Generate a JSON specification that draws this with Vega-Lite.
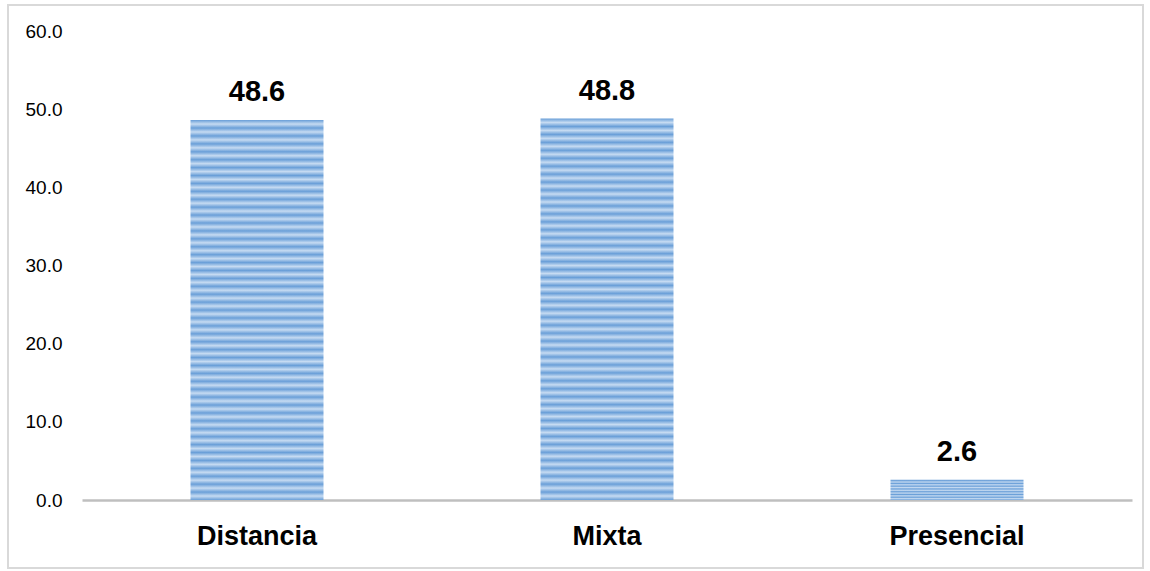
{
  "$schema": "https://vega.github.io/schema/vega-lite/v6.json",
  "width": 1135,
  "height": 563,
  "autosize": {"type": "none"},
  "padding": {"left": 8, "top": 5, "right": 7, "bottom": 3},
  "background": "white",
  "config": {"view": {"stroke": "#d9d9d9", "strokeWidth": 2}},
  "data": {"values": [
    {"modalidad": "Distancia", "valor": 48.6},
    {"modalidad": "Mixta", "valor": 48.8},
    {"modalidad": "Presencial", "valor": 2.6}
  ]},
  "encoding": {
    "x": {
      "field": "modalidad", "type": "nominal", "sort": null,
      "scale": {"range": [74, 1124], "paddingInner": 0.62, "paddingOuter": 0.31},
      "axis": {"title": null, "orient": "bottom", "offset": -68, "labelAngle": 0, "ticks": false,
               "domainColor": "#bfbfbf", "domainWidth": 2.5, "labelFont": "Liberation Sans",
               "labelFontSize": 27, "labelFontWeight": "bold", "labelColor": "#000000", "labelPadding": 23}
    },
    "y": {
      "field": "valor", "type": "quantitative",
      "scale": {"domain": [0, 60], "range": [495, 26], "nice": false},
      "axis": {"title": null, "offset": -54, "domain": false, "ticks": false, "grid": false,
               "values": [0, 10, 20, 30, 40, 50, 60], "format": ".1f", "labelPadding": 0,
               "labelFont": "Liberation Sans", "labelFontSize": 19, "labelColor": "#000000"}
    }
  },
  "layer": [
    {"mark": {"type": "bar", "color": {"gradient": "linear", "x1": 0, "y1": 0, "x2": 0, "y2": 1, "stops": [
      {"offset": 0, "color": "#6a9fd8"}, {"offset": 0.0104, "color": "#c6dbf2"},
      {"offset": 0.0208, "color": "#6a9fd8"}, {"offset": 0.0313, "color": "#c6dbf2"},
      {"offset": 0.0417, "color": "#6a9fd8"}, {"offset": 0.0521, "color": "#c6dbf2"},
      {"offset": 0.0625, "color": "#6a9fd8"}, {"offset": 0.0729, "color": "#c6dbf2"},
      {"offset": 0.0833, "color": "#6a9fd8"}, {"offset": 0.0938, "color": "#c6dbf2"},
      {"offset": 0.1042, "color": "#6a9fd8"}, {"offset": 0.1146, "color": "#c6dbf2"},
      {"offset": 0.125, "color": "#6a9fd8"}, {"offset": 0.1354, "color": "#c6dbf2"},
      {"offset": 0.1458, "color": "#6a9fd8"}, {"offset": 0.1563, "color": "#c6dbf2"},
      {"offset": 0.1667, "color": "#6a9fd8"}, {"offset": 0.1771, "color": "#c6dbf2"},
      {"offset": 0.1875, "color": "#6a9fd8"}, {"offset": 0.1979, "color": "#c6dbf2"},
      {"offset": 0.2083, "color": "#6a9fd8"}, {"offset": 0.2188, "color": "#c6dbf2"},
      {"offset": 0.2292, "color": "#6a9fd8"}, {"offset": 0.2396, "color": "#c6dbf2"},
      {"offset": 0.25, "color": "#6a9fd8"}, {"offset": 0.2604, "color": "#c6dbf2"},
      {"offset": 0.2708, "color": "#6a9fd8"}, {"offset": 0.2813, "color": "#c6dbf2"},
      {"offset": 0.2917, "color": "#6a9fd8"}, {"offset": 0.3021, "color": "#c6dbf2"},
      {"offset": 0.3125, "color": "#6a9fd8"}, {"offset": 0.3229, "color": "#c6dbf2"},
      {"offset": 0.3333, "color": "#6a9fd8"}, {"offset": 0.3438, "color": "#c6dbf2"},
      {"offset": 0.3542, "color": "#6a9fd8"}, {"offset": 0.3646, "color": "#c6dbf2"},
      {"offset": 0.375, "color": "#6a9fd8"}, {"offset": 0.3854, "color": "#c6dbf2"},
      {"offset": 0.3958, "color": "#6a9fd8"}, {"offset": 0.4063, "color": "#c6dbf2"},
      {"offset": 0.4167, "color": "#6a9fd8"}, {"offset": 0.4271, "color": "#c6dbf2"},
      {"offset": 0.4375, "color": "#6a9fd8"}, {"offset": 0.4479, "color": "#c6dbf2"},
      {"offset": 0.4583, "color": "#6a9fd8"}, {"offset": 0.4688, "color": "#c6dbf2"},
      {"offset": 0.4792, "color": "#6a9fd8"}, {"offset": 0.4896, "color": "#c6dbf2"},
      {"offset": 0.5, "color": "#6a9fd8"}, {"offset": 0.5104, "color": "#c6dbf2"},
      {"offset": 0.5208, "color": "#6a9fd8"}, {"offset": 0.5313, "color": "#c6dbf2"},
      {"offset": 0.5417, "color": "#6a9fd8"}, {"offset": 0.5521, "color": "#c6dbf2"},
      {"offset": 0.5625, "color": "#6a9fd8"}, {"offset": 0.5729, "color": "#c6dbf2"},
      {"offset": 0.5833, "color": "#6a9fd8"}, {"offset": 0.5938, "color": "#c6dbf2"},
      {"offset": 0.6042, "color": "#6a9fd8"}, {"offset": 0.6146, "color": "#c6dbf2"},
      {"offset": 0.625, "color": "#6a9fd8"}, {"offset": 0.6354, "color": "#c6dbf2"},
      {"offset": 0.6458, "color": "#6a9fd8"}, {"offset": 0.6563, "color": "#c6dbf2"},
      {"offset": 0.6667, "color": "#6a9fd8"}, {"offset": 0.6771, "color": "#c6dbf2"},
      {"offset": 0.6875, "color": "#6a9fd8"}, {"offset": 0.6979, "color": "#c6dbf2"},
      {"offset": 0.7083, "color": "#6a9fd8"}, {"offset": 0.7188, "color": "#c6dbf2"},
      {"offset": 0.7292, "color": "#6a9fd8"}, {"offset": 0.7396, "color": "#c6dbf2"},
      {"offset": 0.75, "color": "#6a9fd8"}, {"offset": 0.7604, "color": "#c6dbf2"},
      {"offset": 0.7708, "color": "#6a9fd8"}, {"offset": 0.7813, "color": "#c6dbf2"},
      {"offset": 0.7917, "color": "#6a9fd8"}, {"offset": 0.8021, "color": "#c6dbf2"},
      {"offset": 0.8125, "color": "#6a9fd8"}, {"offset": 0.8229, "color": "#c6dbf2"},
      {"offset": 0.8333, "color": "#6a9fd8"}, {"offset": 0.8438, "color": "#c6dbf2"},
      {"offset": 0.8542, "color": "#6a9fd8"}, {"offset": 0.8646, "color": "#c6dbf2"},
      {"offset": 0.875, "color": "#6a9fd8"}, {"offset": 0.8854, "color": "#c6dbf2"},
      {"offset": 0.8958, "color": "#6a9fd8"}, {"offset": 0.9063, "color": "#c6dbf2"},
      {"offset": 0.9167, "color": "#6a9fd8"}, {"offset": 0.9271, "color": "#c6dbf2"},
      {"offset": 0.9375, "color": "#6a9fd8"}, {"offset": 0.9479, "color": "#c6dbf2"},
      {"offset": 0.9583, "color": "#6a9fd8"}, {"offset": 0.9688, "color": "#c6dbf2"},
      {"offset": 0.9792, "color": "#6a9fd8"}, {"offset": 0.9896, "color": "#c6dbf2"},
      {"offset": 1, "color": "#6a9fd8"}
    ]}}},
    {"mark": {"type": "text", "baseline": "alphabetic", "dy": -19, "font": "Liberation Sans",
              "fontSize": 29, "fontWeight": "bold", "color": "#000000"},
     "encoding": {"text": {"field": "valor", "type": "quantitative", "format": ".1f"}}}
  ]
}
